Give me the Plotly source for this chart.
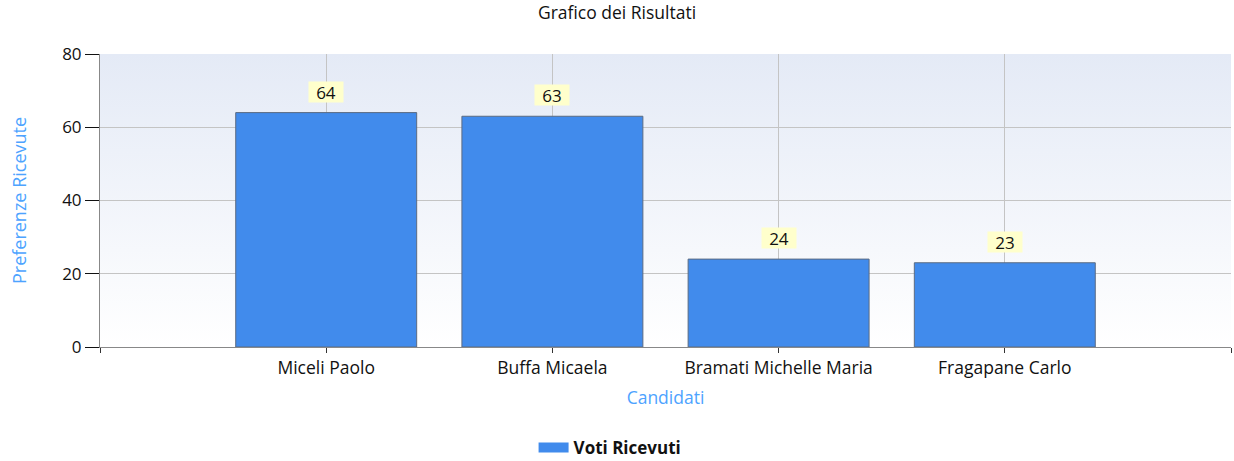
import base64
import plotly.graph_objects as go

categories = ["Miceli Paolo", "Buffa Micaela", "Bramati Michelle Maria", "Fragapane Carlo"]
votes = [64, 63, 24, 23]
y_ticks = [0, 20, 40, 60, 80]
series_name = "Voti Ricevuti"

positions = list(range(1, len(categories) + 1))
x_max = len(categories) + 1
y_max = 80

FONT = "Open Sans"
BLUE_TXT = "#4da3ff"
BAR = "#418bec"

svg = ('<svg xmlns="http://www.w3.org/2000/svg" width="100" height="100" preserveAspectRatio="none">'
       '<defs><linearGradient id="g" x1="0" y1="0" x2="0" y2="1">'
       '<stop offset="0" stop-color="#e4eaf6"/><stop offset="1" stop-color="#ffffff"/>'
       '</linearGradient></defs><rect width="100" height="100" fill="url(#g)"/></svg>')
bg_src = "data:image/svg+xml;base64," + base64.b64encode(svg.encode()).decode()

fig = go.Figure()

fig.add_trace(go.Bar(
    x=positions, y=votes, width=0.8, name=series_name,
    marker=dict(color=BAR, line=dict(color="#5b6b82", width=1)),
    showlegend=False,
))
# legend glyph (wide rectangle like the original)
fig.add_trace(go.Scatter(
    x=[None], y=[None], mode="lines", name=series_name,
    line=dict(color=BAR, width=16), showlegend=True, hoverinfo="skip",
))

for xv, v in zip(positions, votes):
    fig.add_annotation(
        x=xv, y=v, text=str(v), showarrow=False, yanchor="bottom", yshift=10,
        bgcolor="#ffffcc", borderpad=0, width=34, height=20,
        font=dict(family=FONT, size=17, color="#111111"),
    )

fig.add_layout_image(dict(
    source=bg_src, xref="x", yref="y", x=0, y=y_max, sizex=x_max, sizey=y_max,
    sizing="stretch", xanchor="left", yanchor="top", layer="below",
))

fig.update_layout(
    width=1234, height=461,
    margin=dict(l=100, r=3, t=54, b=114, autoexpand=False),
    paper_bgcolor="white", plot_bgcolor="white",
    title=dict(text="Grafico dei Risultati", x=0.5, xanchor="center", y=0.985, yanchor="top",
               font=dict(family=FONT, size=17.5, color="#111111")),
    font=dict(family=FONT, size=17, color="#111111"),
    xaxis=dict(
        range=[0, x_max], tickmode="array",
        tickvals=[0] + positions + [x_max], ticktext=[""] + categories + [""],
        showgrid=True, gridcolor="#c4c4c4", gridwidth=1,
        showline=True, linecolor="#888888", linewidth=1,
        ticks="outside", ticklen=5, tickcolor="#333333",
        tickfont=dict(family=FONT, size=17.5, color="#111111"),
        title=dict(text="Candidati", font=dict(family=FONT, size=17.5, color=BLUE_TXT), standoff=13),
        zeroline=False, automargin=False,
    ),
    yaxis=dict(
        range=[0, y_max], tickvals=y_ticks,
        showgrid=True, gridcolor="#c4c4c4", gridwidth=1,
        showline=True, linecolor="#888888", linewidth=1,
        ticks="outside", ticklen=14, tickcolor="#111111",
        tickfont=dict(family=FONT, size=17, color="#111111"),
        title=dict(text="Preferenze Ricevute", font=dict(family=FONT, size=18, color=BLUE_TXT), standoff=30),
        zeroline=False, automargin=False,
    ),
    legend=dict(orientation="h", x=0.451, xanchor="center", y=-0.283, yanchor="top",
                font=dict(family=FONT, size=17, color="#111111", weight="bold")),
    bargap=0.2,
)

fig.write_html("out.html", config={"displayModeBar": False},
               post_script="document.body.style.margin='0';")
